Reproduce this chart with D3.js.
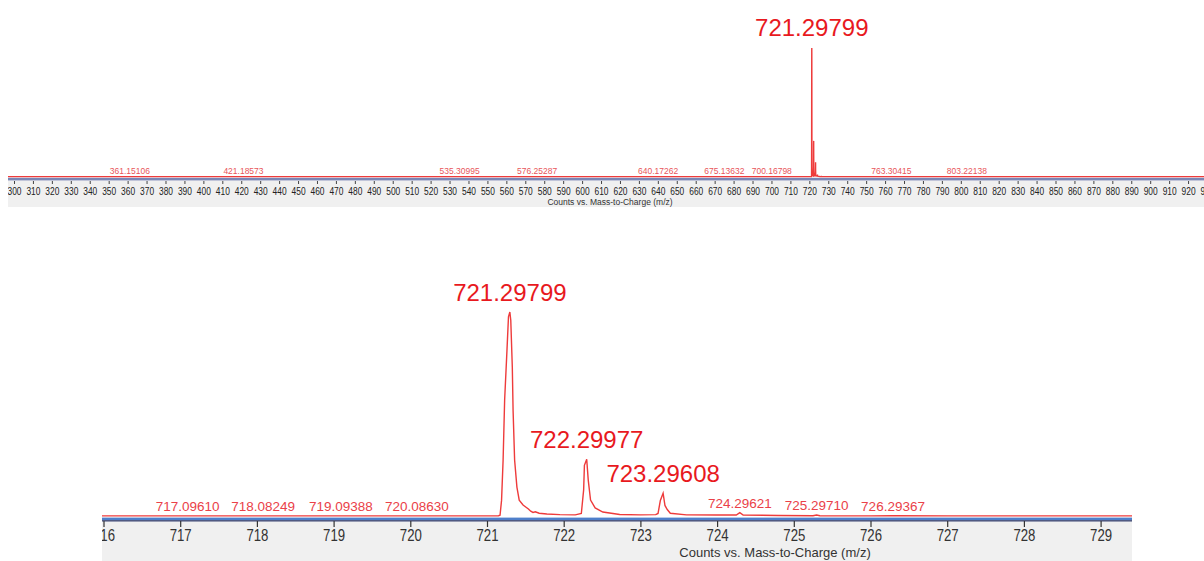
<!DOCTYPE html>
<html>
<head>
<meta charset="utf-8">
<script src="https://cdn.jsdelivr.net/npm/d3@7"></script>
<style>
  body { margin: 0; background: #fff; }
  svg { display: block; font-family: "Liberation Sans", Arial, sans-serif; }
</style>
</head>
<body>
<svg id="chart" width="1204" height="561"></svg>
<script>
// profile spectrum (m/z, counts in % of base peak)
var mz = [296, 716.0, 717.1, 718.1, 719.1, 720.1, 721.15, 721.17, 721.19, 721.21, 721.23, 721.26, 721.28, 721.298,
          721.31, 721.33, 721.34, 721.36, 721.39, 721.42, 721.47, 721.54, 721.57, 721.60, 721.63, 721.68, 721.78,
          721.95, 722.15, 722.23, 722.26, 722.27, 722.30, 722.32, 722.35, 722.41, 722.51, 722.73, 723.0, 723.2,
          723.23, 723.26, 723.296, 723.32, 723.35, 723.39, 723.6, 724.0, 724.25, 724.296, 724.34, 724.8, 725.25,
          725.297, 725.34, 726.0, 726.29, 727.0, 728.0, 729.5, 930];
var counts = [0.3, 0.3, 0.3, 0.3, 0.3, 0.3, 0.4, 0.6, 8, 27.6, 57, 81, 97.6, 100,
              96, 73, 52, 27.6, 14.4, 8, 5.6, 3.7, 2.6, 2.0, 2.3, 1.6, 1.2,
              0.9, 0.8, 1.5, 13, 25, 28, 17.8, 8, 4.2, 2.2, 1.0, 0.8, 0.9,
              1.5, 7.8, 11.4, 5.4, 3.4, 1.6, 0.8, 0.7, 0.7, 1.9, 0.7, 0.5, 0.4,
              0.7, 0.4, 0.3, 0.4, 0.3, 0.3, 0.3, 0.3];

// labelled peaks, full scan
var scanPeaks = [361.15106, 421.18573, 535.30995, 576.25287, 640.17262, 675.13632, 700.16798, 721.29799, 763.30415, 803.22138];
var scanPeakCounts = [0.3, 0.3, 0.3, 0.3, 0.3, 0.3, 0.3, 100, 0.3, 0.3];

// labelled peaks, zoomed view
var zoomPeaks = [717.09610, 718.08249, 719.09388, 720.08630, 721.29799, 722.29977, 723.29608, 724.29621, 725.29710, 726.29367];
var zoomPeakCounts = [0.4, 0.4, 0.4, 0.4, 100, 28, 11.4, 1.9, 0.7, 0.4];

var scanTicks = d3.range(300, 940, 10);
var zoomTicks = [716, 717, 718, 719, 720, 721, 722, 723, 724, 725, 726, 727, 728, 729];
var axisTitle = "Counts vs. Mass-to-Charge (m/z)";

var svg = d3.select("#chart");
var spectrum = mz.map(function (m, i) { return { mz: m, c: counts[i] }; });
var fmt = d3.format(".5f");

// ---------- top panel: full scan ----------
var x1 = d3.scaleLinear().domain([300, 930]).range([14, 1207]);
var y1 = d3.scaleLinear().domain([0, 100]).range([177, 48]);

svg.append("clipPath").attr("id", "clip1")
    .append("rect").attr("x", 8).attr("y", 0).attr("width", 1196).attr("height", 210);

svg.append("rect").attr("x", 8).attr("y", 180).attr("width", 1196).attr("height", 27).attr("fill", "#f0f0f0");
svg.append("rect").attr("x", 8).attr("y", 177.8).attr("width", 1196).attr("height", 2.6).attr("fill", "#7a86b6");

var scanG = svg.append("g").attr("clip-path", "url(#clip1)");

scanG.append("path")
    .datum(spectrum)
    .attr("fill", "none")
    .attr("stroke", "#ee3b3b")
    .attr("stroke-width", 1.4)
    .attr("d", d3.line().x(function (d) { return x1(d.mz); }).y(function (d) { return y1(d.c); }));

var ax1 = scanG.append("g")
    .attr("transform", "translate(0,181)")
    .call(d3.axisBottom(x1).tickValues(scanTicks).tickSize(3).tickPadding(3).tickFormat(d3.format("d")));
ax1.select(".domain").remove();
ax1.selectAll("line").attr("stroke", "#444");
ax1.selectAll("text")
    .attr("fill", "#222")
    .style("font-size", "11px")
    .attr("textLength", 14)
    .attr("lengthAdjust", "spacingAndGlyphs");

scanG.selectAll(".lbl")
    .data(scanPeaks)
    .enter().append("text")
    .attr("text-anchor", "middle")
    .attr("x", function (d) { return x1(d); })
    .attr("y", function (d, i) { return scanPeakCounts[i] > 10 ? y1(scanPeakCounts[i]) - 12 : y1(scanPeakCounts[i]) - 3; })
    .attr("fill", function (d, i) { return scanPeakCounts[i] > 10 ? "#e8191e" : "#e8555a"; })
    .style("font-size", function (d, i) { return scanPeakCounts[i] > 10 ? "24px" : "8.5px"; })
    .text(function (d) { return fmt(d); });

svg.append("text")
    .attr("x", 610).attr("y", 205)
    .attr("text-anchor", "middle")
    .attr("fill", "#333")
    .style("font-size", "8.5px")
    .text(axisTitle);

// ---------- bottom panel: zoom on the isotope cluster ----------
var x2 = d3.scaleLinear().domain([716, 729]).range([103.5, 1100.6]);
var y2 = d3.scaleLinear().domain([0, 100]).range([516.5, 312]);

svg.append("clipPath").attr("id", "clip2")
    .append("rect").attr("x", 102).attr("y", 250).attr("width", 1030).attr("height", 311);

svg.append("rect").attr("x", 102).attr("y", 522).attr("width", 1030).attr("height", 39).attr("fill", "#f0f0f0");
svg.append("rect").attr("x", 102).attr("y", 517.6).attr("width", 1030).attr("height", 2.6).attr("fill", "#4f7fca");
svg.append("rect").attr("x", 102).attr("y", 520.2).attr("width", 1030).attr("height", 1.3).attr("fill", "#2e3866");

var zoomG = svg.append("g").attr("clip-path", "url(#clip2)");

zoomG.append("path")
    .datum(spectrum)
    .attr("fill", "none")
    .attr("stroke", "#ee3b3b")
    .attr("stroke-width", 1.4)
    .attr("d", d3.line().x(function (d) { return x2(d.mz); }).y(function (d) { return y2(d.c); }));

var ax2 = zoomG.append("g")
    .attr("transform", "translate(0,521)")
    .call(d3.axisBottom(x2).tickValues(zoomTicks).tickSize(6).tickPadding(3).tickFormat(d3.format("d")));
ax2.select(".domain").remove();
ax2.selectAll("line").attr("stroke", "#333").attr("stroke-width", 1.2);
ax2.selectAll("text")
    .attr("fill", "#333")
    .style("font-size", "16px")
    .attr("textLength", 22)
    .attr("lengthAdjust", "spacingAndGlyphs");

zoomG.selectAll(".lbl")
    .data(zoomPeaks)
    .enter().append("text")
    .attr("text-anchor", "middle")
    .attr("x", function (d) { return x2(d); })
    .attr("y", function (d, i) { return zoomPeakCounts[i] > 10 ? y2(zoomPeakCounts[i]) - 11 : y2(zoomPeakCounts[i]) - 5; })
    .attr("fill", function (d, i) { return zoomPeakCounts[i] > 10 ? "#e8191e" : "#ea4148"; })
    .style("font-size", function (d, i) { return zoomPeakCounts[i] > 10 ? "24px" : "13.5px"; })
    .text(function (d) { return fmt(d); });

svg.append("text")
    .attr("x", 775).attr("y", 557)
    .attr("text-anchor", "middle")
    .attr("fill", "#333")
    .style("font-size", "13px")
    .text(axisTitle);
</script>
</body>
</html>
